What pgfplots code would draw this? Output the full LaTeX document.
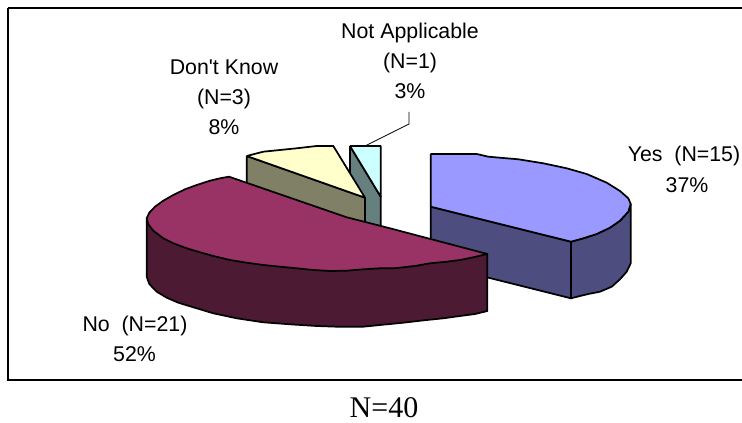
\documentclass[border=0pt]{standalone}
\usepackage{pgfplots}
\pgfplotsset{compat=1.18}
\usepackage{fontspec}
\newfontfamily\labelfont{Liberation Sans}
\newfontfamily\captionfont{Liberation Serif}
\definecolor{yesTop}{HTML}{9999FF}
\definecolor{yesSide}{HTML}{4D4D80}
\definecolor{noTop}{HTML}{993366}
\definecolor{noSide}{HTML}{4D1A33}
\definecolor{dkTop}{HTML}{FFFFCC}
\definecolor{dkSide}{HTML}{808066}
\definecolor{naTop}{HTML}{CCFFFF}
\definecolor{naSide}{HTML}{668080}
\tikzset{
  piece/.style={draw=black, line width=1.3pt, line join=round},
  txt/.style={font=\labelfont\fontsize{16}{18}\selectfont, inner sep=0pt, text=black, anchor=base},
}
\begin{document}
\begin{tikzpicture}
\begin{axis}[
  at={(0,0)}, anchor=south west,
  x=0.75pt, y=0.75pt,
  xmin=0, xmax=742, ymin=0, ymax=423,
  y dir=reverse,
  hide axis,
  clip=true,
]
% page background and chart frame
\addplot[fill=white, draw=none] coordinates {(0,0)(742,0)(742,423)(0,423)(0,0)};
\addplot[draw=black, line width=1.5pt, fill=white] coordinates {(8,8)(760,8)(760,380)(8,380)(8,8)};
% Not Applicable wedge
\addplot[piece, fill=naSide] coordinates {(350,146)(380.7,196.7)(380.7,226.7)(350,220)(350,146)};
\addplot[piece, fill=naTop] coordinates {(350,146)(380.7,146)(380.7,196.7)(350,146)};
% Yes wedge
\addplot[piece, fill=yesSide] coordinates {(430.7,206.7)(571,241.7)(571,298.3)(430.7,263.3)(430.7,206.7)};
\addplot[piece, fill=yesSide] coordinates {(630.7,204)(630.7,263.3)(626.7,271.7)(620,279.3)(611.7,286.7)(600,291.7)(588.3,294)(580,296)(571,298.3)(571,241.7)(583.3,238.3)(596.7,234)(610,227.7)(620,220.7)(628.3,211.7)(630.7,204)};
\addplot[piece, fill=yesTop] coordinates {(430.7,154)(476.7,154)(488.3,156.7)(518.3,159.3)(543.3,163.3)(566.7,168.3)(586.7,174)(606.7,182.7)(620,191)(628.3,198.3)(630.7,204)(628.3,211.7)(620,220.7)(610,227.7)(596.7,234)(583.3,238.3)(571,241.7)(430.7,206.7)(430.7,154)};
% Don't Know wedge
\addplot[piece, fill=dkSide] coordinates {(246.7,156)(365,197.7)(365,226.7)(246.7,186.7)(246.7,156)};
\addplot[piece, fill=dkTop] coordinates {(246.7,156)(263.3,151.7)(280,150)(296.7,148.3)(316.7,146)(333.3,146)(365,197.7)(246.7,156)};
% No wedge
\addplot[piece, fill=noSide] coordinates {(146.7,218.3)(146.7,276.7)(149.3,284)(156.7,291.7)(166.7,297.7)(178.3,302.7)(196.7,308.3)(213.3,313.3)(236.7,318.3)(263.3,322.3)(290,324.3)(316.7,326)(336.7,326.7)(363.3,326.7)(380,325)(403.3,322.7)(426.7,320)(443.3,318.3)(460,316)(475,314)(487.3,311)(487.3,254)(146.7,218.3)};
\addplot[piece, fill=noTop] coordinates {(229,176.7)(220,178.3)(210,180.7)(196.7,185)(185,189.3)(173.3,195)(163.3,200.7)(155,206.7)(149.3,212.7)(146.7,218.3)(148.3,224.3)(153.3,230.7)(163.3,238.3)(173.3,243.3)(186.7,248.3)(200,252.3)(213.3,256)(230,260)(246.7,262.7)(263.3,265)(280,266.7)(296.7,268.3)(313.3,270)(330,271)(346.7,270.7)(363.3,269.3)(380,268.3)(393.3,268.3)(403.3,267.3)(416.7,265.7)(430,263.3)(446.7,261.7)(460,260)(473.3,257.3)(487.3,254)(390,228.3)(346.7,217.3)(229,176.7)};
% leader line of the Not Applicable label
\addplot[draw=black, line width=0.6pt] coordinates {(409,112)(409,124)(365,146)};
% slice labels
\node[txt] at (axis cs:410,39) {Not Applicable};
\node[txt] at (axis cs:410,69) {(N=1)};
\node[txt] at (axis cs:410,99) {3\%};
\node[txt] at (axis cs:224,75) {Don't Know};
\node[txt] at (axis cs:224,105) {(N=3)};
\node[txt] at (axis cs:224,135) {8\%};
\node[txt] at (axis cs:684,162) {Yes\ \ (N=15)};
\node[txt] at (axis cs:687,193) {37\%};
\node[txt] at (axis cs:135,332) {No\ \ (N=21)};
\node[txt] at (axis cs:134.5,362) {52\%};
\node[font=\captionfont\fontsize{22.5}{25}\selectfont, inner sep=0pt, anchor=base] at (axis cs:384,417.5) {N=40};
\end{axis}
\end{tikzpicture}
\end{document}
